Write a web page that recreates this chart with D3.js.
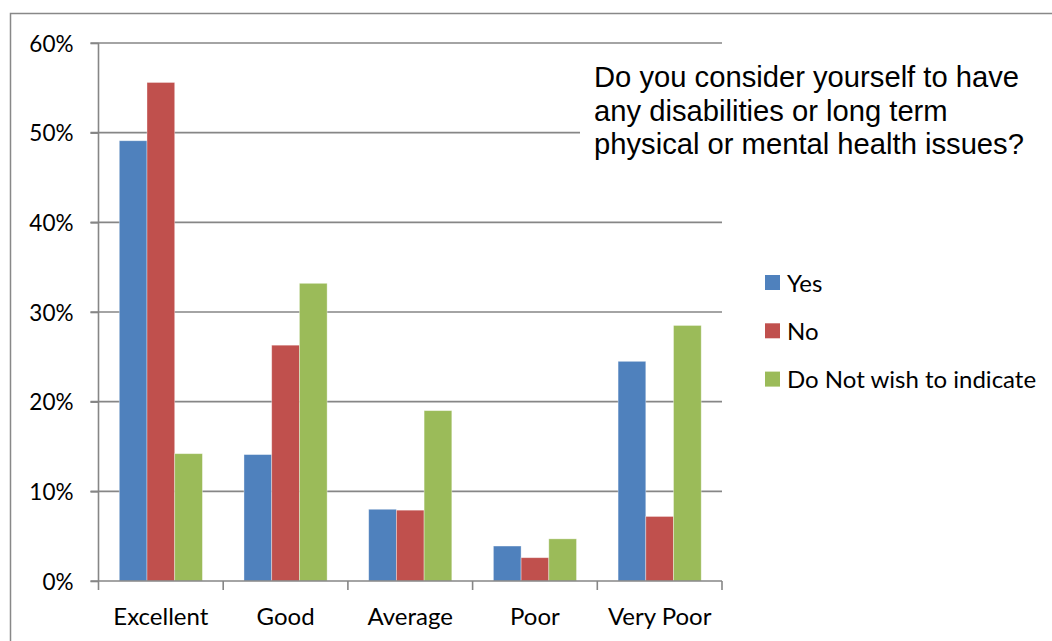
<!DOCTYPE html>
<html>
<head>
<meta charset="utf-8">
<script src="https://cdn.jsdelivr.net/npm/d3@7"></script>
<style>
  html, body { margin: 0; padding: 0; background: #fff; }
  svg { display: block; }
</style>
</head>
<body>
<script>
const categories = ["Excellent", "Good", "Average", "Poor", "Very Poor"];
const seriesNames = ["Yes", "No", "Do Not wish to indicate"];
const yesValues = [0.491, 0.141, 0.080, 0.039, 0.245];
const noValues = [0.556, 0.263, 0.079, 0.026, 0.072];
const notIndicatedValues = [0.142, 0.332, 0.190, 0.047, 0.285];
const seriesColors = ["#4F81BD", "#C0504D", "#9BBB59"];
const yTicks = [0, 0.1, 0.2, 0.3, 0.4, 0.5, 0.6];
const titleLines = ["Do you consider yourself to have", "any disabilities or long term", "physical or mental health issues?"];

const W = 1052, H = 641;
const svg = d3.select("body").append("svg").attr("width", W).attr("height", H);
const bodyFont = "Lato, 'Open Sans', sans-serif";

// outer chart border
svg.append("path").attr("d", `M10.5,${H} V13.5 H${W}`).attr("fill", "none")
  .attr("stroke", "#888").attr("stroke-width", 1.5);

const plot = { left: 98.5, right: 722, top: 43, bottom: 581 };
const x = d3.scaleBand().domain(categories).range([plot.left, plot.right]).paddingInner(0).paddingOuter(0);
const y = d3.scaleLinear().domain([0, 0.6]).range([plot.bottom, plot.top]);

// gridlines
const grid = svg.append("g");
grid.selectAll("line").data(yTicks.filter(d => d > 0)).join("line")
  .attr("x1", plot.left - 8).attr("x2", plot.right)
  .attr("y1", d => y(d)).attr("y2", d => y(d))
  .attr("stroke", "#868686").attr("stroke-width", 1.6);

// bars
const series = [yesValues, noValues, notIndicatedValues];
const gw = x.bandwidth() * 2 / 3;
const bw = gw / 3;
const off = (x.bandwidth() - gw) / 2;
series.forEach((vals, si) => {
  svg.append("g").selectAll("rect").data(categories).join("rect")
    .attr("x", (c) => x(c) + off + si * bw)
    .attr("y", (c, i) => y(vals[i]))
    .attr("width", bw)
    .attr("height", (c, i) => y(0) - y(vals[i]))
    .attr("fill", seriesColors[si])
    .attr("stroke", "rgba(255,255,255,0.45)").attr("stroke-width", 0.8);
});

// y axis
const yAxis = d3.axisLeft(y).tickValues(yTicks).tickFormat(d3.format(".0%")).tickSize(8).tickPadding(17);
const yg = svg.append("g").attr("transform", `translate(${plot.left},0)`).call(yAxis);
yg.select(".domain").attr("stroke", "#868686").attr("stroke-width", 1.6).attr("d", `M0,${plot.top}V${plot.bottom}`);
yg.selectAll(".tick line").attr("stroke", "#868686").attr("stroke-width", 1.6);
yg.selectAll(".tick text").attr("font-family", bodyFont).attr("font-size", 22.5).attr("fill", "#000").attr("dy", "0.36em");

// x axis
const xAxis = d3.axisBottom(x).tickSize(0).tickPadding(0);
const xg = svg.append("g").attr("transform", `translate(0,${plot.bottom})`).call(xAxis);
xg.select(".domain").attr("stroke", "#868686").attr("stroke-width", 1.6).attr("d", `M${plot.left - 8},0H${plot.right}`);
xg.selectAll(".tick text").attr("font-family", bodyFont).attr("font-size", 24).attr("fill", "#000").attr("dy", null).attr("y", 44);
// category boundary ticks
const bounds = categories.map(c => x(c)).concat([plot.right]);
xg.append("g").selectAll("line").data(bounds).join("line")
  .attr("x1", d => d).attr("x2", d => d).attr("y1", 0).attr("y2", 9)
  .attr("stroke", "#868686").attr("stroke-width", 1.6);

// title box
svg.append("rect").attr("x", 580).attr("y", 52).attr("width", 465).attr("height", 114).attr("fill", "#fff");
const title = svg.append("text").attr("font-family", "'Liberation Sans', Arial, sans-serif").attr("font-size", 29.2).attr("fill", "#000");
title.selectAll("tspan").data(titleLines).join("tspan")
  .attr("x", 594).attr("y", (d, i) => 87 + i * 33.5).text(d => d);

// legend
const lg = svg.append("g").attr("transform", "translate(765,275)");
const items = lg.selectAll("g").data(seriesNames).join("g").attr("transform", (d, i) => `translate(0,${i * 48.3})`);
items.append("rect").attr("width", 15).attr("height", 15).attr("fill", (d, i) => seriesColors[i]);
items.append("text").attr("x", 22).attr("y", 16.5).attr("font-family", bodyFont).attr("font-size", 24).attr("fill", "#000").text(d => d);
</script>
</body>
</html>
